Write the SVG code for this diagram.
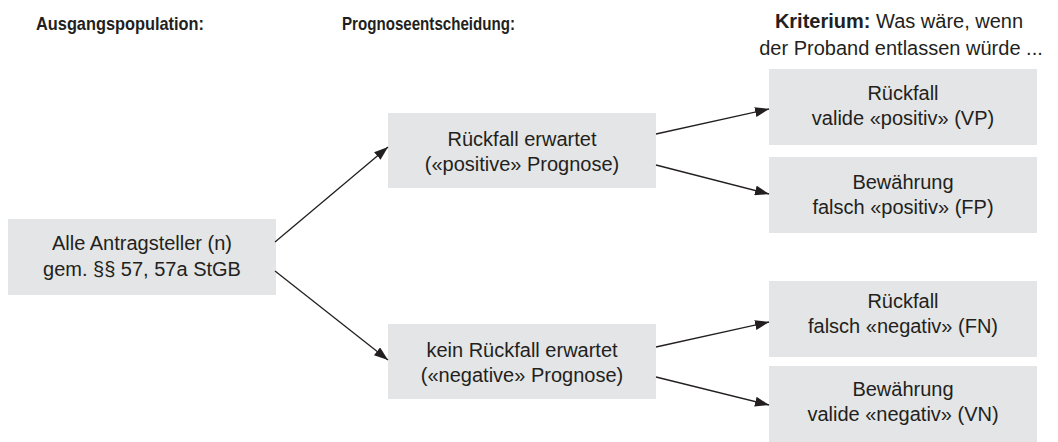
<svg xmlns="http://www.w3.org/2000/svg" width="1058" height="442" viewBox="0 0 1058 442">
  <style>
    .box { fill: #e4e5e6; }
    .t { font-family: "Liberation Sans", Arial, sans-serif; font-size: 20px; fill: #231f20; text-anchor: middle; }
    .h { font-family: "Liberation Sans Narrow", "Liberation Sans", Arial, sans-serif; font-size: 19px; fill: #231f20; font-weight: bold; }
    .conn { stroke: #231f20; stroke-width: 1.3; fill: none; marker-end: url(#arrow); }
  </style>
  <defs>
    <marker id="arrow" markerWidth="14" markerHeight="10" refX="14" refY="5" orient="auto" markerUnits="userSpaceOnUse">
      <path d="M0,0 L14,5 L0,10 Z" fill="#231f20"/>
    </marker>
  </defs>
  <rect width="1058" height="442" fill="#ffffff"/>

  <!-- column headings -->
  <g id="headings">
    <text class="h" x="36" y="30" textLength="168" lengthAdjust="spacingAndGlyphs">Ausgangspopulation:</text>
    <text class="h" x="342" y="30" textLength="173" lengthAdjust="spacingAndGlyphs">Prognoseentscheidung:</text>
    <text class="t" x="899" y="28" font-size="19"><tspan font-weight="bold">Kriterium:</tspan> Was wäre, wenn</text>
    <text class="t" x="901" y="55" font-size="19">der Proband entlassen würde ...</text>
  </g>

  <g id="population">
    <rect class="box" x="8" y="219" width="268" height="76"/>
    <text class="t" x="142" y="250">Alle Antragsteller (n)</text>
    <text class="t" x="142" y="276">gem. §§ 57, 57a StGB</text>
  </g>

  <g id="prognosis-positive">
    <rect class="box" x="388" y="113" width="268" height="75"/>
    <text class="t" x="522" y="146">Rückfall erwartet</text>
    <text class="t" x="522" y="171">(«positive» Prognose)</text>
  </g>

  <g id="prognosis-negative">
    <rect class="box" x="388" y="324" width="268" height="75"/>
    <text class="t" x="522" y="357">kein Rückfall erwartet</text>
    <text class="t" x="522" y="382">(«negative» Prognose)</text>
  </g>

  <g id="vp">
    <rect class="box" x="769" y="69" width="268" height="76"/>
    <text class="t" x="903" y="100">Rückfall</text>
    <text class="t" x="903" y="125">valide «positiv» (VP)</text>
  </g>

  <g id="fp">
    <rect class="box" x="769" y="157" width="268" height="76"/>
    <text class="t" x="903" y="189">Bewährung</text>
    <text class="t" x="903" y="214">falsch «positiv» (FP)</text>
  </g>

  <g id="fn">
    <rect class="box" x="769" y="281" width="268" height="76"/>
    <text class="t" x="903" y="308">Rückfall</text>
    <text class="t" x="903" y="333">falsch «negativ» (FN)</text>
  </g>

  <g id="vn">
    <rect class="box" x="769" y="366" width="268" height="76"/>
    <text class="t" x="903" y="396">Bewährung</text>
    <text class="t" x="903" y="421">valide «negativ» (VN)</text>
  </g>

  <g id="connectors">
    <line class="conn" x1="275" y1="242" x2="388" y2="147"/>
    <line class="conn" x1="275" y1="271" x2="388" y2="360"/>
    <line class="conn" x1="656" y1="134" x2="769" y2="109"/>
    <line class="conn" x1="656" y1="165" x2="769" y2="194"/>
    <line class="conn" x1="656" y1="347" x2="769" y2="322"/>
    <line class="conn" x1="656" y1="377" x2="769" y2="405"/>
  </g>
</svg>
